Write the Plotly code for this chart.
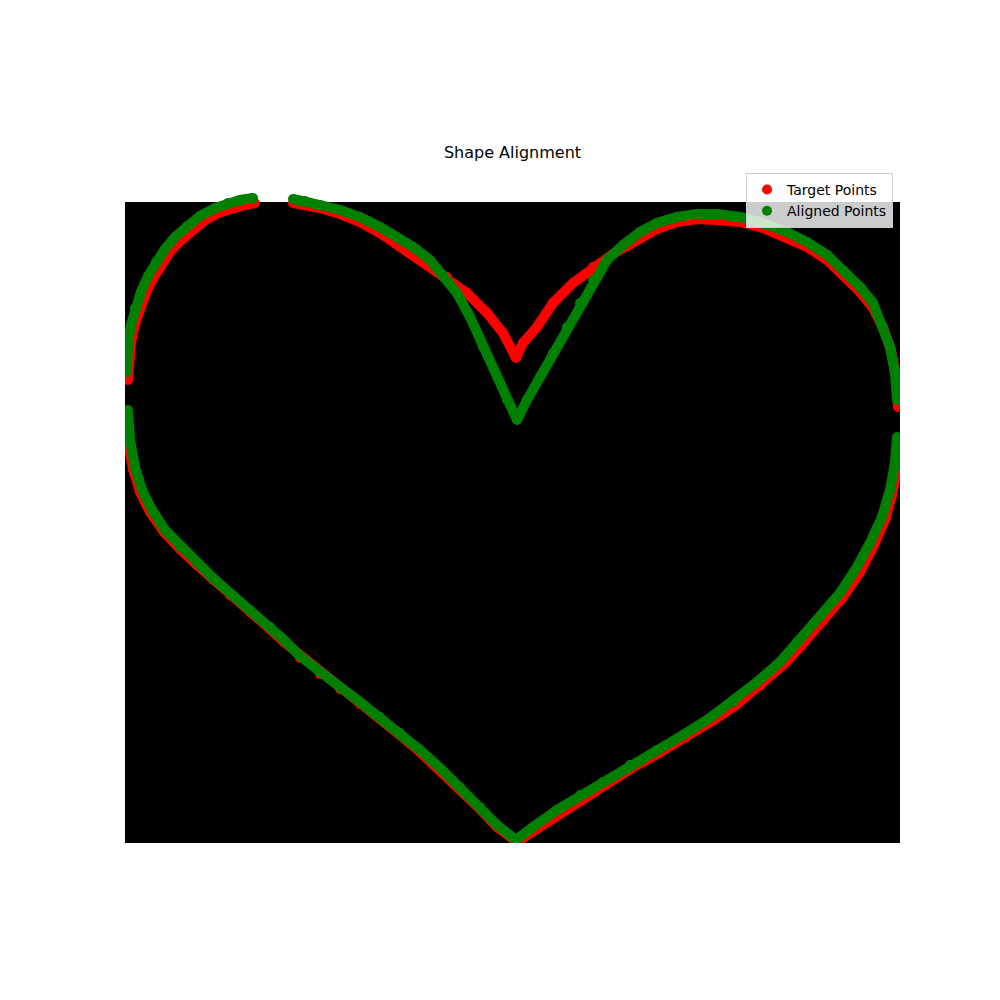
import plotly.graph_objects as go

# image is 775 x 641 px, y axis points down like an image
img_w = 775
img_h = 641

# target contour (None = break in the contour)
target_x = [168, 180, 195, 215, 235, 255, 275, 298, 322, 342, 362, 378, 391, 398, 412, 428, 448, 468, 488,
            502, 515, 532, 552, 572, 592, 615, 638, 662, 682, 702, 718, 735, 748, 759, 766, 771, 773,
            None,
            773, 772, 767, 760, 748, 735, 718, 698, 675, 658, 635, 611, 587, 560, 534, 507, 480, 457, 434,
            410, 392, 372, 355, 335, 315, 295, 275, 255, 235, 215, 195, 175, 159, 145, 125, 105, 88, 72,
            55, 39, 25, 15, 8, 3, 1,
            None,
            3, 4, 6, 9, 14, 20, 27, 35, 44, 54, 66, 79, 93, 107, 120, 130]
target_y = [1, 3, 6, 12, 20, 31, 45, 60, 75, 91, 111, 131, 156, 141, 125, 101, 81, 65, 52,
            44, 37, 27, 20, 17, 18, 20, 26, 35, 45, 58, 73, 90, 106, 128, 148, 173, 205,
            None,
            240, 268, 293, 318, 345, 370, 395, 419, 445, 463, 484, 503, 519, 536, 551, 566, 583, 596, 611,
            628, 640, 625, 607, 587, 568, 550, 533, 517, 502, 487, 472, 456, 440, 427, 410, 393, 378, 363,
            347, 330, 310, 290, 267, 240, 212,
            None,
            178, 158, 141, 125, 109, 93, 78, 64, 51, 40, 29, 19, 11, 6, 3, 1]

# aligned contour
aligned_x = [168, 180, 195, 215, 235, 255, 272, 288, 305, 318, 332, 345, 358, 372, 382, 392, 402, 415, 428,
             442, 455, 468, 482, 498, 515, 532, 552, 572, 592, 615, 638, 662, 682, 702, 718, 735, 748,
             758, 765, 770, 772,
             None,
             772, 770, 765, 757, 745, 732, 715, 695, 672, 655, 632, 608, 585, 558, 532, 505, 478, 455, 432,
             408, 391, 372, 355, 335, 315, 295, 275, 255, 235, 215, 195, 175, 159, 145, 125, 105, 88, 72,
             55, 40, 27, 17, 10, 5, 3,
             None,
             2, 2, 3, 6, 10, 16, 23, 31, 40, 50, 62, 75, 90, 103, 115, 128]
aligned_y = [-3, -1, 3, 8, 15, 25, 35, 45, 58, 73, 91, 115, 145, 175, 198, 218, 198, 175, 151,
             125, 101, 78, 58, 43, 30, 21, 15, 12, 12, 15, 21, 30, 40, 53, 68, 85, 101,
             125, 145, 171, 198,
             None,
             235, 261, 288, 315, 341, 365, 391, 415, 440, 460, 480, 500, 516, 533, 548, 563, 580, 593, 608,
             625, 638, 623, 605, 585, 566, 548, 531, 515, 500, 485, 470, 454, 438, 425, 408, 391, 376, 361,
             345, 328, 308, 288, 265, 238, 208,
             None,
             170, 156, 140, 123, 106, 90, 74, 60, 47, 35, 24, 14, 6, 1, -2, -4]

fig = go.Figure()

# dense point clouds are drawn as a thick path with markers at each point
for name, xs, ys, color in [('Target Points', target_x, target_y, 'red'),
                            ('Aligned Points', aligned_x, aligned_y, 'green')]:
    fig.add_trace(go.Scatter(
        x=xs, y=ys, mode='lines',
        line=dict(color=color, width=10),
        connectgaps=False, showlegend=False, legendgroup=name, hoverinfo='skip'
    ))
    fig.add_trace(go.Scatter(
        x=xs, y=ys, mode='markers',
        marker=dict(color=color, size=10),
        name=name, legendgroup=name
    ))

# black image behind the points
fig.add_shape(type='rect', x0=0, x1=img_w, y0=0, y1=img_h,
              xref='x', yref='y', fillcolor='black', line=dict(width=0), layer='below')

# page body adds 8px, so margins are shifted to compensate
fig.update_layout(
    width=1000, height=1000,
    margin=dict(l=117, r=108, t=172, b=165),
    paper_bgcolor='white',
    plot_bgcolor='white',
    font=dict(family='DejaVu Sans', color='black'),
    title=dict(text='Shape Alignment', x=0.5045, xanchor='center',
               y=0.856, yanchor='middle', font=dict(size=16)),
    xaxis=dict(range=[0, img_w], visible=False),
    yaxis=dict(range=[img_h, -22], visible=False),
    legend=dict(x=0.991, y=1.0106, xanchor='right', yanchor='top',
                bgcolor='rgba(255,255,255,0.8)', bordercolor='rgb(204,204,204)',
                borderwidth=1, font=dict(size=14), tracegroupgap=0),
    showlegend=True,
)

fig.write_html("out.html")
